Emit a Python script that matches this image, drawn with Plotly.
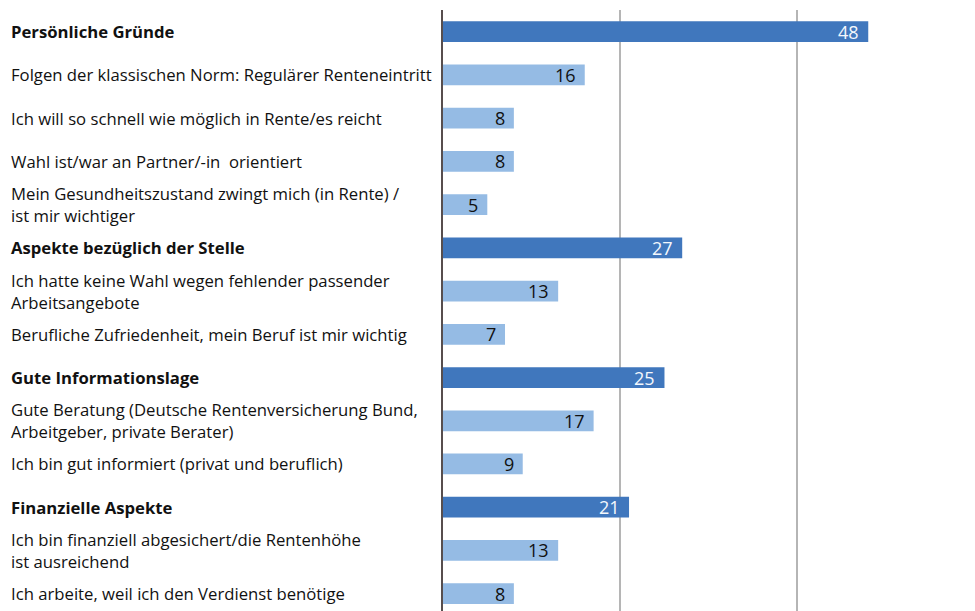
import plotly.graph_objects as go

labels = [
    "Persönliche Gründe",
    "Folgen der klassischen Norm: Regulärer Renteneintritt",
    "Ich will so schnell wie möglich in Rente/es reicht",
    "Wahl ist/war an Partner/-in  orientiert",
    "Mein Gesundheitszustand zwingt mich (in Rente) /<br>ist mir wichtiger",
    "Aspekte bezüglich der Stelle",
    "Ich hatte keine Wahl wegen fehlender passender<br>Arbeitsangebote",
    "Berufliche Zufriedenheit, mein Beruf ist mir wichtig",
    "Gute Informationslage",
    "Gute Beratung (Deutsche Rentenversicherung Bund,<br>Arbeitgeber, private Berater)",
    "Ich bin gut informiert (privat und beruflich)",
    "Finanzielle Aspekte",
    "Ich bin finanziell abgesichert/die Rentenhöhe<br>ist ausreichend",
    "Ich arbeite, weil ich den Verdienst benötige",
]
values = [48, 16, 8, 8, 5, 27, 13, 7, 25, 17, 9, 21, 13, 8]
is_group = [True, False, False, False, False, True, False, False, True, False, False, True, False, False]

DARK = "#4077BD"
LIGHT = "#95BBE4"
FONT = "Open Sans"

colors = [DARK if g else LIGHT for g in is_group]

fig = go.Figure(go.Bar(
    x=values, y=labels, orientation="h",
    marker=dict(color=colors, line=dict(width=0)),
    hoverinfo="skip",
))

annotations = []
for lab, v, g in zip(labels, values, is_group):
    annotations.append(dict(
        x=v, y=lab, xref="x", yref="y", text=str(v),
        xanchor="right", yanchor="middle", xshift=-7, showarrow=False,
        font=dict(family=FONT, size=18, color="#F4F7FC" if g else "#111111"),
    ))
    annotations.append(dict(
        x=(9 - 443) / 532, y=lab, xref="paper", yref="y",
        text=f"<b>{lab}</b>" if g else lab,
        xanchor="left", yanchor="middle", align="left", showarrow=False,
        font=dict(family=FONT, size=16.7, color="#111111"),
    ))

fig.update_layout(
    width=975, height=611,
    margin=dict(l=443, r=0, t=10, b=0, pad=0),
    paper_bgcolor="white", plot_bgcolor="white",
    bargap=0.52, showlegend=False,
    font=dict(family=FONT, size=16, color="#111111"),
    annotations=annotations,
    xaxis=dict(range=[0, 60.05], dtick=20, tick0=0, showgrid=True,
               gridcolor="#B5B5B5", gridwidth=1.5, zeroline=False,
               showticklabels=False, ticks="", showline=False, fixedrange=True),
    yaxis=dict(range=[13.40, -0.5], showticklabels=False, ticks="",
               showgrid=False, zeroline=False, showline=True,
               linecolor="#574E4E", linewidth=2, fixedrange=True),
)

fig.write_html(
    "out.html",
    config={"displayModeBar": False},
    post_script="document.body.style.margin='0';document.body.style.padding='0';document.body.style.overflow='hidden';",
)
